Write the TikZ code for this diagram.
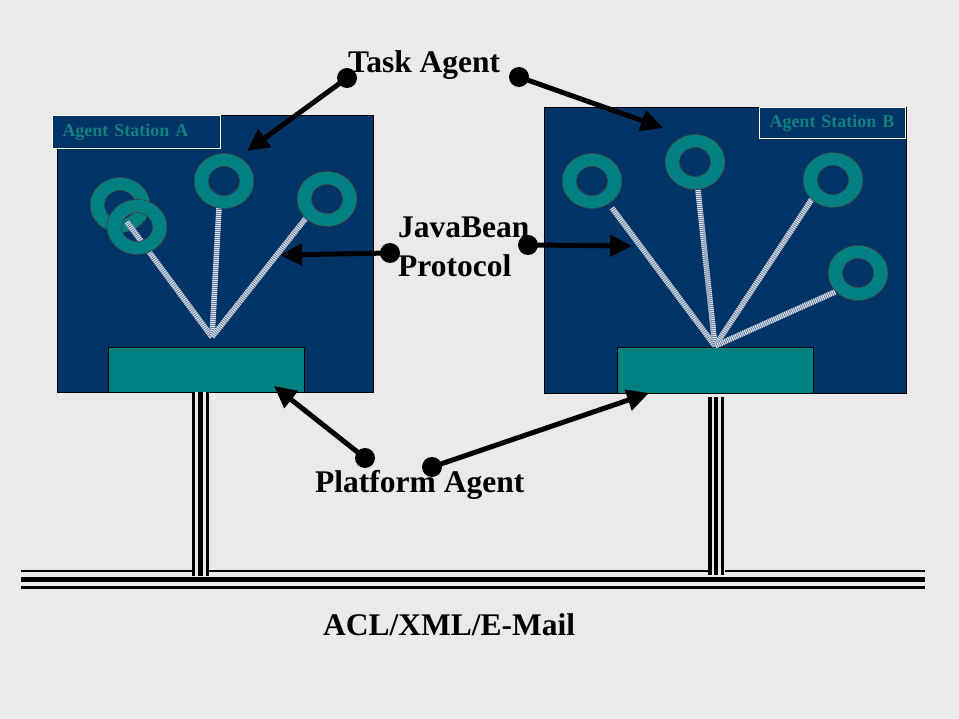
\documentclass[tikz,border=0pt]{standalone}
\usepackage{fontspec}
\setmainfont{Liberation Serif}
\usetikzlibrary{arrows.meta}
\definecolor{bg}{RGB}{234,234,234}
\definecolor{navy}{RGB}{0,51,102}
\definecolor{tealc}{RGB}{0,128,128}
\definecolor{labtext}{RGB}{16,128,128}
\definecolor{cream}{RGB}{255,255,235}
\definecolor{pattbase}{RGB}{80,110,150}
\tikzset{
  station/.style={draw=black,line width=0.8pt,fill=navy,inner sep=0pt,anchor=north west},
  platform/.style={draw=black,line width=0.6pt,fill=tealc,inner sep=0pt,anchor=north west},
  stlabel/.style={draw=cream,line width=1pt,fill=navy,anchor=north west,inner xsep=10pt,inner ysep=0pt,
    align=left,text=labtext,font=\fontsize{18}{18}\selectfont\bfseries},
  bigtext/.style={inner sep=0pt,anchor=base west,font=\fontsize{31.5}{39}\selectfont\bfseries},
  ring/.style={fill=tealc,draw=black!75,line width=0.6pt,even odd rule},
  link/.style={line width=5.5pt,draw=white!85!pattbase,dash pattern=on 1pt off 1pt,
    preaction={draw=pattbase,line width=5.5pt}},
  dotnode/.style={circle,fill=black,minimum size=20pt,inner sep=0pt},
  arr/.style={line width=5pt,-{Triangle[length=22pt,width=21pt]}},
  thinrail/.style={line width=3.2pt},
  thickrail/.style={line width=5pt},
}
\begin{document}
\begin{tikzpicture}[x=1pt,y=-1pt]
\useasboundingbox[fill=bg] (0,0) rectangle (959,719);

% stations
\node[station,minimum width=316pt,minimum height=277pt] (stA) at (57,115) {};
\node[station,minimum width=362pt,minimum height=286pt] (stB) at (544,107) {};

% platform boxes
\node[platform,minimum width=196pt,minimum height=45pt] (plA) at (108,347) {};
\node[platform,minimum width=196pt,minimum height=46pt] (plB) at (617,347) {};

% ring centres
\coordinate (rA1) at (120,205);
\coordinate (rA2) at (137,227);
\coordinate (rA3) at (224,181);
\coordinate (rA4) at (327,199);
\coordinate (rB1) at (592,181);
\coordinate (rB2) at (695,162);
\coordinate (rB3) at (833,180);
\coordinate (rB4) at (858,273);

% convergence points and link ends
\coordinate (hubA) at (212,337);
\coordinate (hubB) at (715,346);
\coordinate (lA1) at (127,222);
\coordinate (lA3) at (219,208);
\coordinate (lA4) at (306,218);
\coordinate (lB1) at (612,208);
\coordinate (lB2) at (698,190);
\coordinate (lB3) at (812,199);
\coordinate (lB4) at (835,292);

% station A rings and links
\path[ring] (rA1) ellipse[x radius=30pt,y radius=27.5pt] (rA1) ellipse[x radius=15.5pt,y radius=14.5pt];
\draw[link] (lA1) -- (hubA);
\draw[link] (lA3) -- (hubA);
\draw[link] (lA4) -- (hubA);
\path[ring] (rA2) ellipse[x radius=30pt,y radius=27.5pt] (rA2) ellipse[x radius=15.5pt,y radius=14.5pt];
\path[ring] (rA3) ellipse[x radius=30pt,y radius=27.5pt] (rA3) ellipse[x radius=15.5pt,y radius=14.5pt];
\path[ring] (rA4) ellipse[x radius=30pt,y radius=27.5pt] (rA4) ellipse[x radius=15.5pt,y radius=14.5pt];

% station B links and rings
\draw[link] (lB1) -- (hubB);
\draw[link] (lB2) -- (hubB);
\draw[link] (lB3) -- (hubB);
\draw[link] (lB4) -- (hubB);
\path[ring] (rB1) ellipse[x radius=30pt,y radius=27.5pt] (rB1) ellipse[x radius=15.5pt,y radius=14.5pt];
\path[ring] (rB2) ellipse[x radius=30pt,y radius=27.5pt] (rB2) ellipse[x radius=15.5pt,y radius=14.5pt];
\path[ring] (rB3) ellipse[x radius=30pt,y radius=27.5pt] (rB3) ellipse[x radius=15.5pt,y radius=14.5pt];
\path[ring] (rB4) ellipse[x radius=30pt,y radius=27.5pt] (rB4) ellipse[x radius=15.5pt,y radius=14.5pt];

% station labels
\node[stlabel,text width=148pt,minimum height=33pt] (labA) at (52,115) {Agent Station A};
\node[stlabel,text width=126pt,minimum height=31pt] (labB) at (759,107) {Agent Station B};

% bus
\coordinate (busL) at (21,579.5);
\coordinate (busR) at (925,579.5);
\draw[thinrail,line width=2.8pt] ([yshift=8.5pt]busL) -- ([yshift=8.5pt]busR);
\draw[line width=5.8pt] (busL) -- (busR);
\draw[thinrail,line width=3pt] ([yshift=-8pt]busL) -- ([yshift=-8pt]busR);

% vertical connectors
\coordinate (vA) at (200.5,392);
\coordinate (vAb) at (200.5,576);
\coordinate (vB) at (716,397);
\coordinate (vBb) at (716,575);
\fill[bg] (192,392) rectangle (208.5,576);
\draw[thinrail] ([xshift=-6.8pt]vA) -- ([xshift=-6.8pt]vAb);
\draw[thickrail] (vA) -- (vAb);
\draw[thinrail] ([xshift=6.8pt]vA) -- ([xshift=6.8pt]vAb);
\fill[bg] (708,397) rectangle (724.5,575);
\draw[thinrail,line width=3.5pt] ([xshift=-6pt]vB) -- ([xshift=-6pt]vBb);
\draw[thickrail,line width=4.5pt] (vB) -- (vBb);
\draw[thinrail,line width=3.5pt] ([xshift=6.5pt]vB) -- ([xshift=6.5pt]vBb);

% texts
\node[bigtext] (task) at (348,73) {Task Agent};
\node[bigtext,anchor=north west,align=left] (jb) at (398,217) {JavaBean\\Protocol};
\node[bigtext] (plat) at (315,492) {Platform Agent};
\node[bigtext] (acl) at (323,635) {ACL/XML/E-Mail};

% arrow targets
\coordinate (tTA) at (247,151);
\coordinate (tTB) at (663,128);
\coordinate (tJA) at (280,255);
\coordinate (tJB) at (632,246);
\coordinate (tPA) at (274,386);
\coordinate (tPB) at (649,393);

% dots
\node[dotnode] (dTA) at (347,78) {};
\node[dotnode] (dTB) at (519,77) {};
\node[dotnode] (dJA) at (390,253) {};
\node[dotnode] (dJB) at (528,245) {};
\node[dotnode] (dPA) at (365,458) {};
\node[dotnode] (dPB) at (432,467) {};

% arrows
\draw[arr] (dTA.center) -- (tTA);
\draw[arr] (dTB.center) -- (tTB);
\draw[arr] (dJA.center) -- (tJA);
\draw[arr] (dJB.center) -- (tJB);
\draw[arr] (dPA.center) -- (tPA);
\draw[arr] (dPB.center) -- (tPB);
\end{tikzpicture}
\end{document}
